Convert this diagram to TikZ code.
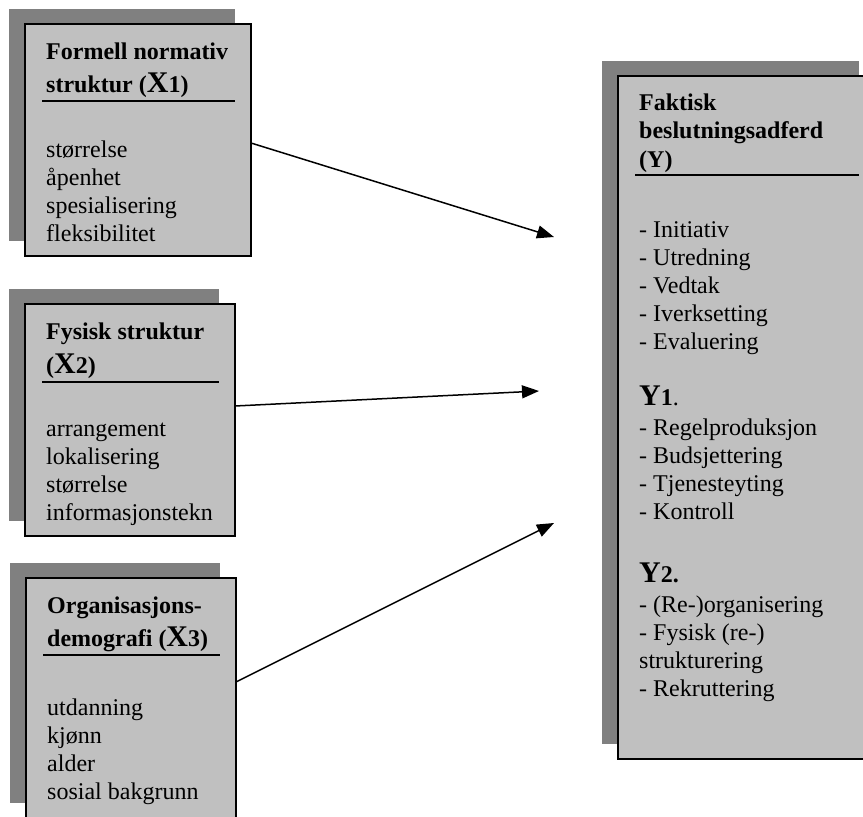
\documentclass[tikz,border=0pt]{standalone}
\usepackage{fontspec}
\setmainfont{Liberation Serif}
\usetikzlibrary{arrows.meta,shadows}
\definecolor{shadowgray}{HTML}{808080}
\definecolor{boxgray}{HTML}{C0C0C0}
\begin{document}
\begin{tikzpicture}[x=1pt,y=-1pt,
  box/.style={draw=black, line width=1.5pt, fill=boxgray, rectangle, anchor=north west,
    inner sep=0pt, outer sep=0pt,
    drop shadow={shadow xshift=-16pt, shadow yshift=15pt, fill=shadowgray, opacity=1}},
  txt/.style={anchor=base west, inner sep=0pt, font=\fontsize{24}{28}\selectfont},
  hdr/.style={anchor=base west, inner sep=0pt, font=\fontsize{24}{28}\selectfont\bfseries},
  rulestyle/.style={line width=1.5pt},
  arr/.style={line width=1.5pt, -{Triangle[length=17pt,width=13pt]}}]
\newcommand{\bigX}[1]{{\fontsize{30}{30}\selectfont #1}}
\useasboundingbox (0,0) rectangle (863,817);
\begin{scope}
\clip (0,0) rectangle (863,817);
% boxes
\node[box, minimum width=226pt, minimum height=232pt] (b1) at (25,24) {};
\node[box, minimum width=210pt, minimum height=232pt] (b2) at (25,304) {};
\node[box, minimum width=210pt, minimum height=240pt] (b3) at (26,578) {};
\node[box, minimum width=257pt, minimum height=683pt] (by) at (618,76) {};

% box 1
\node[hdr] (h11) at (46,59) {Formell normativ};
\node[hdr] (h12) at (46,92) {struktur (\bigX{X}1)};
\draw[rulestyle] (42,101) -- (235,101);
\foreach \t [count=\i] in {størrelse, åpenhet, spesialisering, fleksibilitet}
  \node[txt] (i1\i) at (46,{157+28*(\i-1)}) {\t};

% box 2
\node[hdr] (h21) at (46,339) {Fysisk struktur};
\node[hdr] (h22) at (46,373) {(\bigX{X}2)};
\draw[rulestyle] (42,382) -- (219,382);
\foreach \t [count=\i] in {arrangement, lokalisering, størrelse, informasjonstekn}
  \node[txt] (i2\i) at (46,{436+28*(\i-1)}) {\t};

% box 3
\node[hdr] (h31) at (47,613) {Organisasjons-};
\node[hdr] (h32) at (47,646) {demografi (\bigX{X}3)};
\draw[rulestyle] (43,655) -- (220,655);
\foreach \t [count=\i] in {utdanning, kjønn, alder, sosial bakgrunn}
  \node[txt] (i3\i) at (47,{715+28*(\i-1)}) {\t};

% Y box
\node[hdr] (hy1) at (639,110) {Faktisk};
\node[hdr] (hy2) at (639,138) {beslutningsadferd};
\node[hdr] (hy3) at (639,167) {(Y)};
\draw[rulestyle] (635,175) -- (859,175);
\foreach \t [count=\i] in {- Initiativ, - Utredning, - Vedtak, - Iverksetting, - Evaluering}
  \node[txt] (ya\i) at (639,{237+28*(\i-1)}) {\t};
\node[txt] (y1) at (639,405) {\textbf{\bigX{Y}1}.};
\foreach \t [count=\i] in {- Regelproduksjon, - Budsjettering, - Tjenesteyting, - Kontroll}
  \node[txt] (yb\i) at (639,{435+28*(\i-1)}) {\t};
\node[txt] (y2) at (639,582) {\textbf{\bigX{Y}2.}};
\foreach \t [count=\i] in {- (Re-)organisering, - Fysisk (re-), strukturering, - Rekruttering}
  \node[txt] (yc\i) at (639,{612+28*(\i-1)}) {\t};

% arrows
\coordinate (t1) at (554,237);
\coordinate (t2) at (539,391);
\coordinate (t3) at (554,523);
\draw[arr] ([yshift=-3pt]b1.east) -- (t1);
\draw[arr] ([yshift=14pt]b2.east) -- (t2);
\draw[arr] ([yshift=16pt]b3.east) -- (t3);
\end{scope}
\end{tikzpicture}
\end{document}
